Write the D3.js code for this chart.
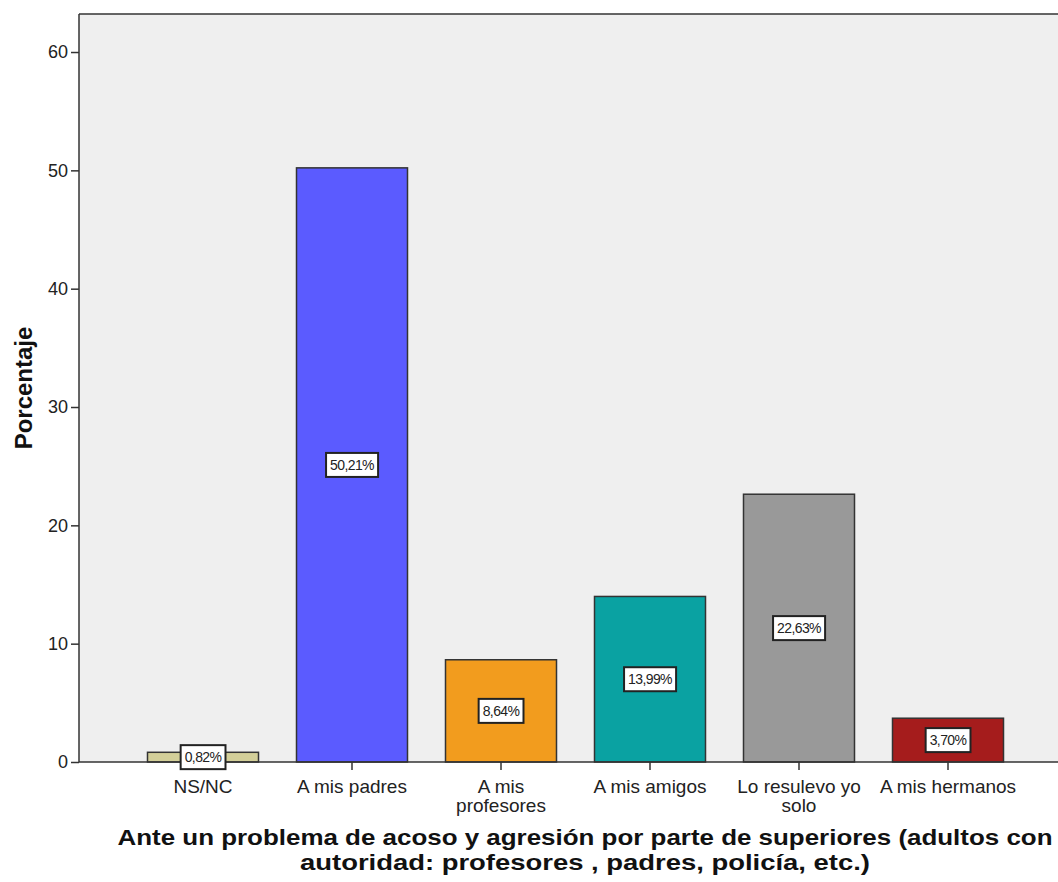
<!DOCTYPE html>
<html><head><meta charset="utf-8">
<script src="https://cdn.jsdelivr.net/npm/d3@7"></script>
<style>body{margin:0;background:#fff}svg{display:block}</style>
</head><body>
<script>
const categories = ["NS/NC", "A mis padres", "A mis profesores", "A mis amigos", "Lo resulevo yo solo", "A mis hermanos"];
const categoryLines = [["NS/NC"], ["A mis padres"], ["A mis", "profesores"], ["A mis amigos"], ["Lo resulevo yo", "solo"], ["A mis hermanos"]];
const values = [0.82, 50.21, 8.64, 13.99, 22.63, 3.70];
const valueLabels = ["0,82%", "50,21%", "8,64%", "13,99%", "22,63%", "3,70%"];
const colors = ["#d3cf99", "#5b5bff", "#f29c1e", "#0aa2a2", "#999999", "#a51c1c"];
const yTicks = [0, 10, 20, 30, 40, 50, 60];
const yTitle = "Porcentaje";
const xTitleLines = ["Ante un problema de acoso y agresión por parte de superiores (adultos con", "autoridad: profesores , padres, policía, etc.)"];

const W = 1058, H = 882;
const L = 79, T = 14, R = 1058, B = 762;
const FONT = "Liberation Sans, Arial, sans-serif";
const svg = d3.select("body").append("svg").attr("width", W).attr("height", H);

svg.append("rect").attr("x", L).attr("y", T).attr("width", R - L).attr("height", B - T).attr("fill", "#efefef");

const y = d3.scaleLinear().domain([0, 60]).range([B, B - 60 * 11.833]);
const x = d3.scaleBand().domain(categories).range([128.5, 1022.5]).paddingInner(0.255).paddingOuter(0.1275);

// bars
svg.append("g").selectAll("rect").data(values).join("rect")
  .attr("x", (d, i) => x(categories[i]))
  .attr("y", d => y(d))
  .attr("width", x.bandwidth())
  .attr("height", d => B - y(d))
  .attr("fill", (d, i) => colors[i])
  .attr("stroke", "#333").attr("stroke-width", 1.5);

// top border
svg.append("line").attr("x1", L).attr("x2", R).attr("y1", T).attr("y2", T).attr("stroke", "#333").attr("stroke-width", 1.5);

// y axis
const yAxis = svg.append("g").attr("transform", `translate(${L},0)`)
  .call(d3.axisLeft(y).tickValues(yTicks).tickSize(8).tickPadding(3).tickSizeOuter(0));
yAxis.select(".domain").attr("stroke", "#333").attr("stroke-width", 1.5).attr("d", `M0,${T}V${B}`);
yAxis.selectAll(".tick line").attr("stroke", "#333").attr("stroke-width", 1.5);
yAxis.selectAll("text").attr("font-family", FONT).attr("font-size", 18).attr("fill", "#222");

// x axis
const xAxis = svg.append("g").attr("transform", `translate(0,${B})`)
  .call(d3.axisBottom(x).tickSize(8).tickSizeOuter(0).tickFormat(""));
xAxis.select(".domain").attr("stroke", "#333").attr("stroke-width", 1.5).attr("d", `M${L},0H${R}`);
xAxis.selectAll(".tick line").attr("stroke", "#333").attr("stroke-width", 1.5);
xAxis.selectAll(".tick").each(function(d, i) {
  const t = d3.select(this).append("text").attr("fill", "#222")
    .attr("font-family", FONT).attr("font-size", 19)
    .attr("text-anchor", "middle").attr("y", 31);
  categoryLines[i].forEach((ln, k) => t.append("tspan").attr("x", 0).attr("dy", k === 0 ? 0 : 19).text(ln));
});

// value labels
const lab = svg.append("g");
values.forEach((v, i) => {
  const cx = x(categories[i]) + x.bandwidth() / 2;
  const cy = y(v / 2);
  const gg = lab.append("g").attr("transform", `translate(${cx},${cy})`);
  const t = gg.append("text").attr("text-anchor", "middle").attr("dy", "0.36em")
    .attr("font-family", FONT).attr("font-size", 14)
    .attr("fill", "#222").attr("letter-spacing", -0.6).text(valueLabels[i]);
  const bb = t.node().getBBox();
  gg.insert("rect", "text").attr("x", bb.x - 4).attr("y", -12).attr("width", bb.width + 8).attr("height", 24)
    .attr("fill", "#fff").attr("stroke", "#222").attr("stroke-width", 2);
});

// titles
svg.append("text").attr("transform", "translate(32,388) rotate(-90)").attr("text-anchor", "middle")
  .attr("font-family", FONT).attr("font-weight", "bold").attr("font-size", 24)
  .attr("fill", "#111").text(yTitle);

const xt = svg.append("text").attr("text-anchor", "middle")
  .attr("font-family", FONT).attr("font-weight", "bold").attr("font-size", 22).attr("fill", "#111");
xt.append("tspan").attr("x", 585).attr("y", 845).attr("textLength", 935).attr("lengthAdjust", "spacingAndGlyphs").text(xTitleLines[0]);
xt.append("tspan").attr("x", 585).attr("y", 870).attr("textLength", 570).attr("lengthAdjust", "spacingAndGlyphs").text(xTitleLines[1]);
</script>
</body></html>
